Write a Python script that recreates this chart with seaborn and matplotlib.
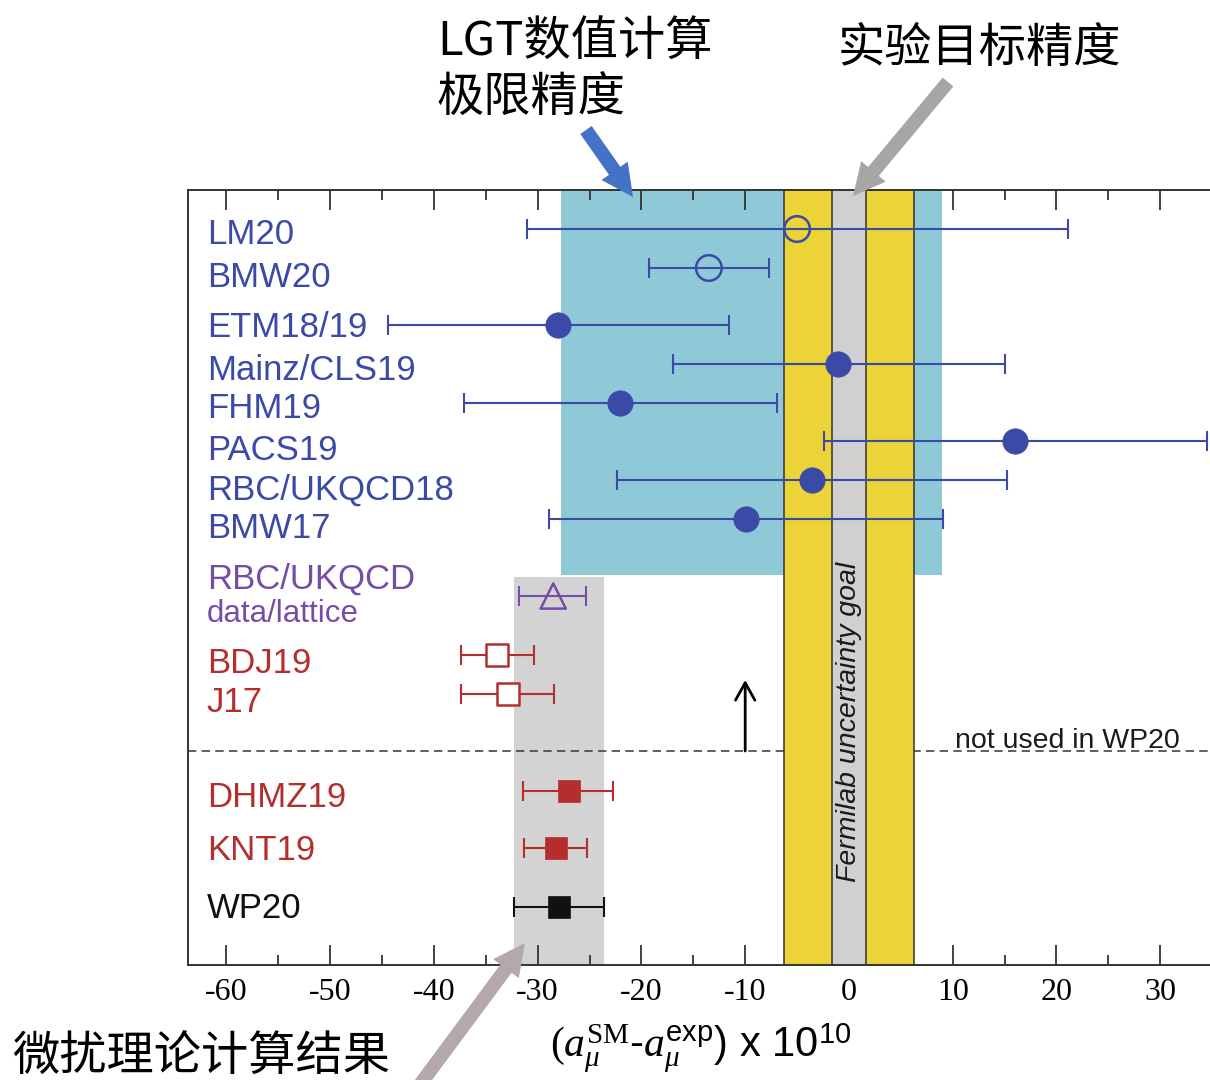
import numpy as np
import pandas as pd
import matplotlib
matplotlib.use("Agg")
import matplotlib.pyplot as plt
import seaborn as sns
from matplotlib.ticker import MultipleLocator, FuncFormatter

# ---------------- data: (a_mu^SM - a_mu^exp) x 10^10 ----------------
names = ["LM20", "BMW20", "ETM18/19", "Mainz/CLS19", "FHM19", "PACS19",
         "RBC/UKQCD18", "BMW17", "RBC/UKQCD data/lattice", "BDJ19", "J17",
         "DHMZ19", "KNT19", "WP20"]
central = [-5.0, -13.5, -28.0, -1.1, -22.1, 16.0, -3.6, -9.9,
           -28.5, -33.9, -32.9, -27.0, -28.2, -27.9]
lower = [-31.0, -19.3, -44.4, -17.0, -37.1, -2.4, -22.4, -28.9,
         -31.8, -37.4, -37.4, -31.4, -31.3, -32.3]
upper = [21.1, -7.7, -11.6, 15.0, -6.9, 34.5, 15.2, 9.1,
         -25.3, -30.4, -28.4, -22.7, -25.2, -23.6]
kind = ["lattice_open"] * 2 + ["lattice"] * 6 + ["hybrid"] + ["tau"] * 2 + ["ee"] * 2 + ["wp"]
row = [0.78, 1.56, 2.70, 3.48, 4.26, 5.02, 5.80, 6.58,
       8.12, 9.30, 10.08, 12.01, 13.16, 14.33]

# row captions drawn at the left of the panel
caption_text = ["LM20", "BMW20", "ETM18/19", "Mainz/CLS19", "FHM19", "PACS19",
                "RBC/UKQCD18", "BMW17", "RBC/UKQCD", "data/lattice", "BDJ19",
                "J17", "DHMZ19", "KNT19", "WP20"]
caption_kind = ["lattice"] * 8 + ["hybrid", "hybrid_small"] + ["tau"] * 2 + ["ee"] * 2 + ["wp"]
caption_row = [1.08, 1.94, 2.94, 3.80, 4.56, 5.40, 6.20, 6.96,
               7.98, 8.64, 9.66, 10.44, 12.34, 13.40, 14.56]

# reference bands
fermilab_goal = 1.6          # half width of the experimental goal band
bnl_uncertainty = 6.3        # half width of the yellow band
lattice_band = (-27.8, 9.0)  # lattice precision limit band
lattice_band_bottom = 7.70
wp_band_top = 7.74
separator_row = 11.22
arrow_top_row = 9.80
axis_bottom_row = 15.5

df = pd.DataFrame({"name": names, "central": central, "lower": lower,
                   "upper": upper, "kind": kind, "row": row})

# ---------------- styling ----------------
sns.set_theme(style="ticks")
plt.rcParams["font.family"] = ["Liberation Sans", "DejaVu Sans"]
plt.rcParams["text.color"] = "black"
plt.rcParams["xtick.labelcolor"] = "black"
plt.rcParams["axes.unicode_minus"] = False
plt.rcParams["mathtext.fontset"] = "custom"
plt.rcParams["mathtext.rm"] = "Liberation Serif"
plt.rcParams["mathtext.it"] = "Liberation Serif:italic"
plt.rcParams["mathtext.sf"] = "Liberation Sans"

BLUE = "#3B4AA6"
PURPLE = "#774CA6"
RED = "#B42E2E"
BLACK = "#111111"
CYAN = "#8FC9D8"
YELLOW = "#EBD338"
GOAL_GRAY = "#D0D0D0"
WP_GRAY = "#D3D3D3"
EDGE = "#333333"

kind_color = {"lattice_open": BLUE, "lattice": BLUE, "hybrid": PURPLE,
              "hybrid_small": PURPLE, "tau": RED, "ee": RED, "wp": BLACK}
marker_style = {
    "lattice_open": dict(marker="o", s=340, facecolor="none", linewidth=1.8),
    "lattice": dict(marker="o", s=335, linewidth=0.5),
    "hybrid": dict(marker="^", s=330, facecolor="none", linewidth=1.8),
    "tau": dict(marker="s", s=250, facecolor="white", linewidth=1.8),
    "ee": dict(marker="s", s=255, linewidth=0.5),
    "wp": dict(marker="s", s=245, linewidth=0.5),
}

CJK = ["Noto Sans CJK SC", "DejaVu Sans"]

W, H = 1210, 1080
fig = plt.figure(figsize=(W / 100, H / 100), dpi=100)
ax_left, ax_right, ax_top, ax_bottom = 188, 1264, 190, 965
ax = fig.add_axes([ax_left / W, 1 - ax_bottom / H,
                   (ax_right - ax_left) / W, (ax_bottom - ax_top) / H])
ax.set_xlim(-63.7, 40)
ax.set_ylim(axis_bottom_row, 0)
ax.grid(False)

# lattice precision band and the WP20 band
ax.fill_betweenx([0, lattice_band_bottom], lattice_band[0], lattice_band[1],
                 color=CYAN, lw=0, zorder=0.5)
wp = df[df["kind"] == "wp"].iloc[0]
ax.fill_betweenx([wp_band_top, axis_bottom_row], wp["lower"], wp["upper"],
                 color=WP_GRAY, lw=0, zorder=0.5)

# separator between results used / not used in WP20
ax.axhline(separator_row, color="#444444", lw=1.2, ls=(0, (5, 3.2)), zorder=1.5)

# experimental bands
ax.axvspan(-bnl_uncertainty, -fermilab_goal, color=YELLOW, lw=0, zorder=2)
ax.axvspan(fermilab_goal, bnl_uncertainty, color=YELLOW, lw=0, zorder=2)
ax.axvspan(-fermilab_goal, fermilab_goal, color=GOAL_GRAY, lw=0, zorder=2)
for xv in (-bnl_uncertainty, -fermilab_goal, fermilab_goal, bnl_uncertainty):
    ax.axvline(xv, color=EDGE, lw=1.1, zorder=2.2)

ax.text(0.0, 10.63, "Fermilab uncertainty goal", rotation=90, ha="center",
        va="center", style="italic", fontsize=20.5, color="#1a1a1a", zorder=3)
ax.text(10.2, 11.16, "not used in WP20", ha="left", va="baseline",
        fontsize=20.5, color="#1a1a1a", zorder=3)
ax.annotate("", xy=(-10, arrow_top_row), xytext=(-10, separator_row),
            arrowprops=dict(arrowstyle="->,head_length=0.5,head_width=0.28",
                            lw=2.0, color="black", mutation_scale=25,
                            shrinkA=0, shrinkB=0), zorder=3)

# error bars
for k, sub in df.groupby("kind", sort=False):
    c = kind_color[k]
    xerr = np.vstack([sub["central"] - sub["lower"], sub["upper"] - sub["central"]])
    ax.errorbar(sub["central"], sub["row"], xerr=xerr, fmt="none", ecolor=c,
                elinewidth=1.5, capsize=7.3, capthick=1.5, zorder=4)

# markers
for k, sub in df.groupby("kind", sort=False):
    st = dict(marker_style[k])
    c = kind_color[k]
    if "facecolor" not in st:
        st["color"] = c
    sns.scatterplot(data=sub, x="central", y="row", edgecolor=c, ax=ax,
                    legend=False, zorder=5, **st)

# row captions
for txt, k, yv in zip(caption_text, caption_kind, caption_row):
    size = 22.5 if k == "hybrid_small" else 25
    ax.text(-61.9, yv, txt, ha="left", va="baseline", fontsize=size,
            color=kind_color[k], zorder=6)

# axes frame and ticks
ax.set_xlabel("")
ax.set_ylabel("")
ax.set_yticks([])
ax.xaxis.set_major_locator(MultipleLocator(10))
ax.xaxis.set_minor_locator(MultipleLocator(5))
ax.xaxis.set_major_formatter(FuncFormatter(lambda v, _: f"{v:.0f}" if v <= 30 else ""))
ax.tick_params(axis="x", which="major", direction="in", length=14.5, width=1.3,
               top=True, bottom=True, labeltop=False, labelsize=23, pad=9,
               color=EDGE, labelcolor="black")
ax.tick_params(axis="x", which="minor", direction="in", length=7.2, width=1.3,
               top=True, bottom=True, color=EDGE)
for lab in ax.get_xticklabels():
    lab.set_fontfamily("Liberation Serif")
for side in ("left", "top", "bottom"):
    ax.spines[side].set_color(EDGE)
    ax.spines[side].set_linewidth(1.4)
ax.spines["right"].set_visible(False)

# axis title
fig.text(701 / W, 1 - 1056 / H,
         r"$(a_{\mu}^{\mathrm{SM}}$-$a_{\mu}^{\mathsf{exp}}$) x 10$^{\mathsf{10}}$",
         ha="center", va="baseline", fontsize=30, color="black")

# Chinese annotations
fig.text(437 / W, 1 - 55 / H, "LGT数值计算", family=CJK, fontsize=34,
         ha="left", va="baseline", color="black")
fig.text(437 / W, 1 - 112 / H, "极限精度", family=CJK, fontsize=34,
         ha="left", va="baseline", color="black")
fig.text(838 / W, 1 - 62 / H, "实验目标精度", family=CJK, fontsize=34,
         ha="left", va="baseline", color="black")
fig.text(12 / W, 1 - 1071 / H, "微扰理论计算结果", family=CJK, fontsize=34,
         ha="left", va="baseline", color="black")


def pointer(tail, tip, color):
    ax.annotate("", xy=(tip[0], H - tip[1]), xycoords="figure pixels",
                xytext=(tail[0], H - tail[1]), textcoords="figure pixels",
                annotation_clip=False,
                arrowprops=dict(arrowstyle="simple,head_length=1.15,head_width=1.15,tail_width=0.5",
                                color=color, lw=0, mutation_scale=20,
                                shrinkA=0, shrinkB=0), zorder=10)


pointer((586, 130), (633, 197), "#4472C4")
pointer((948, 82), (853, 196), "#A6A6A6")
pointer((416, 1090), (525, 943), "#B5A8AB")

fig.savefig("out.png", dpi=100)
